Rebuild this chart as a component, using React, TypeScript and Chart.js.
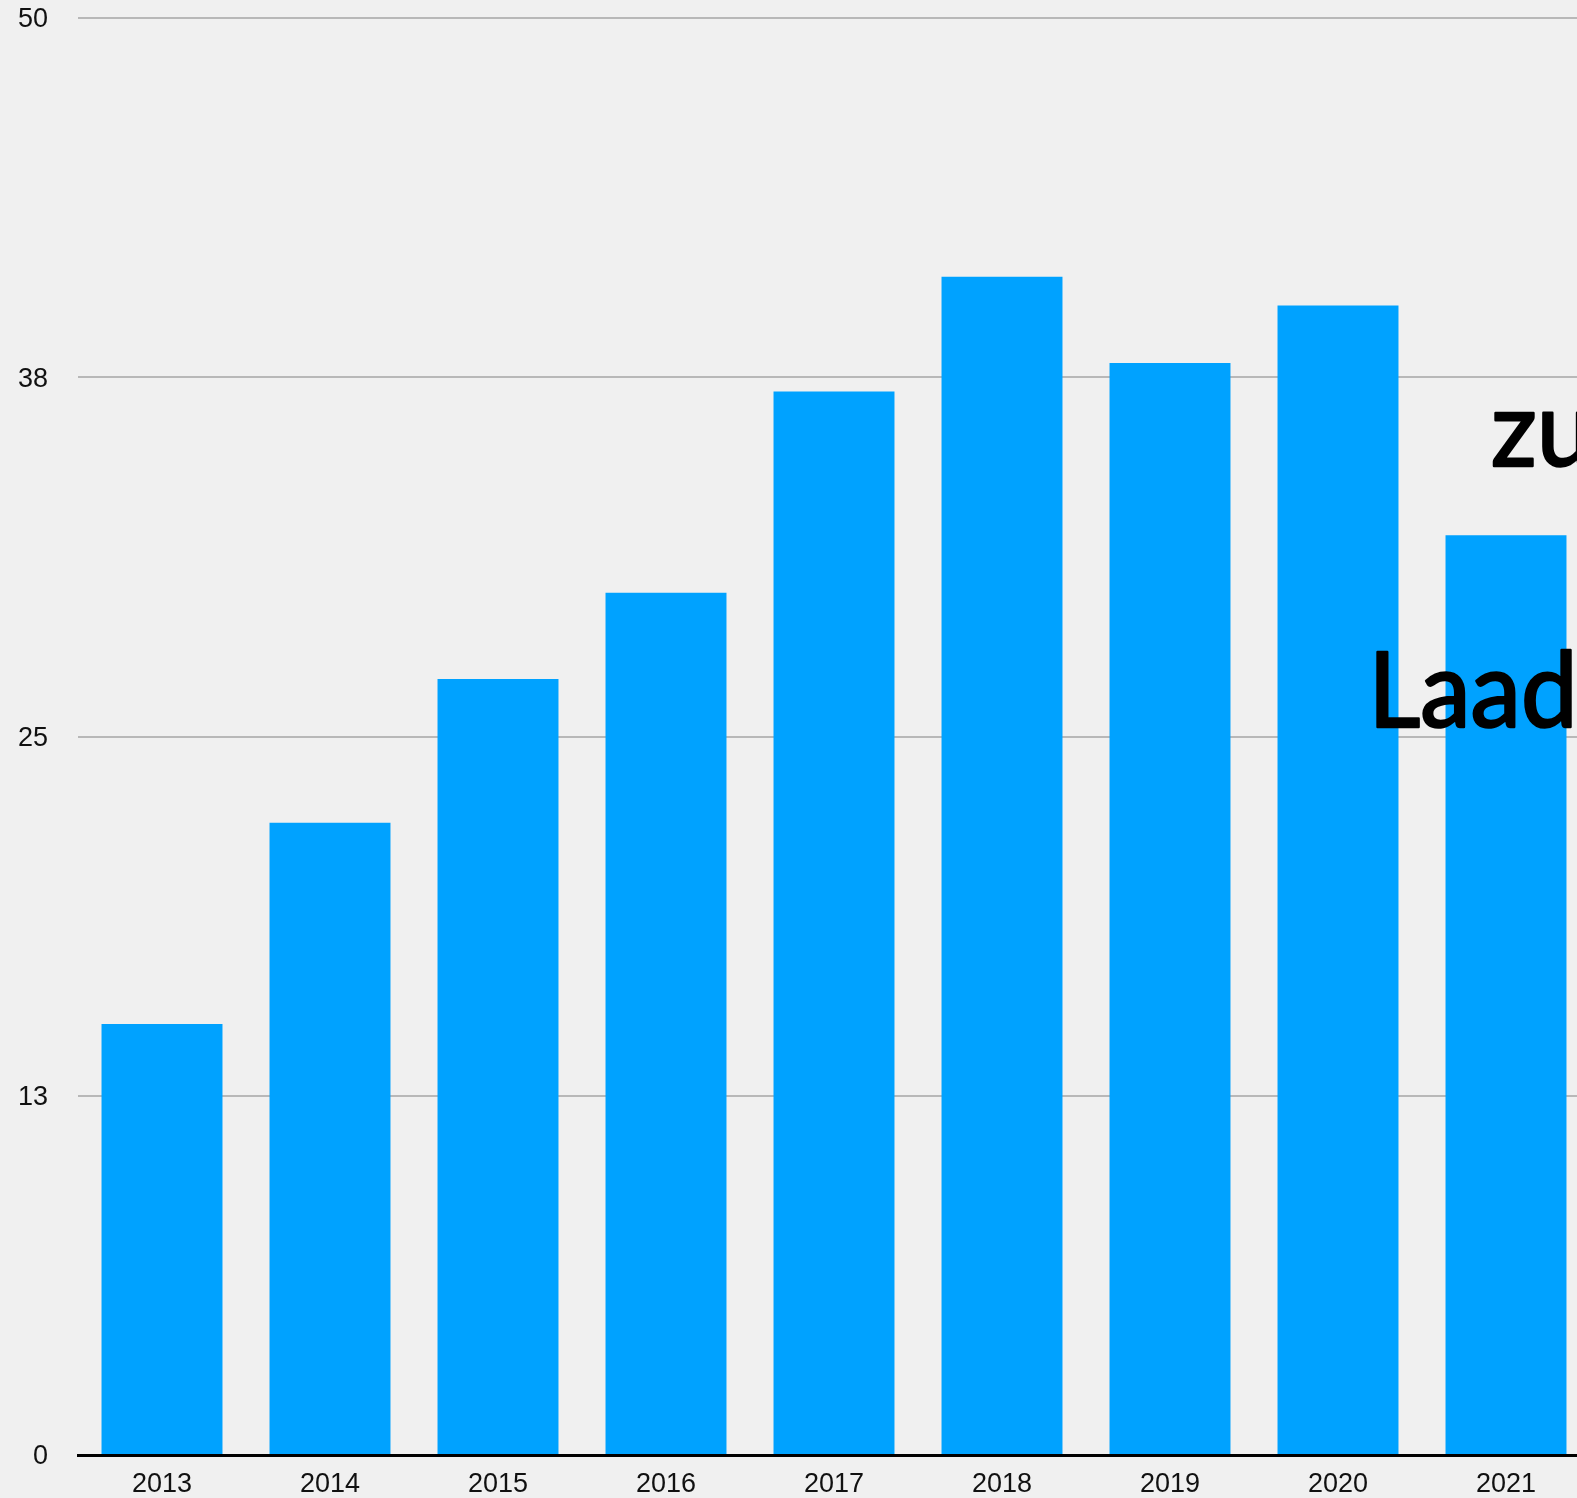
import React, { useEffect, useRef } from "react";
import { Chart, registerables } from "chart.js";

Chart.register(...registerables);

const categories = ["2013", "2014", "2015", "2016", "2017", "2018", "2019", "2020", "2021"];
const values = [15, 22, 27, 30, 37, 41, 38, 40, 32];
const yTicks = [0, 12.5, 25, 37.5, 50];
const overlayTexts = [
  { text: "zu", x: 1493, y: 467 },
  { text: "Laad", x: 1376, y: 728 },
];

const CANVAS_W = 1600;
const CANVAS_H = 1498;

export default function App() {
  const ref = useRef<HTMLCanvasElement | null>(null);

  useEffect(() => {
    document.body.style.margin = "0";
    const canvas = ref.current;
    if (!canvas) return;

    const overlayPlugin = {
      id: "overlayText",
      afterDraw(chart: any) {
        const ctx = chart.ctx;
        ctx.save();
        ctx.fillStyle = "#000";
        ctx.strokeStyle = "#000";
        ctx.lineWidth = 2.5;
        ctx.lineJoin = "round";
        ctx.font = "105px Lato";
        ctx.textBaseline = "alphabetic";
        ctx.textAlign = "left";
        const m = ctx.measureText("Laad");
        const ink = m.actualBoundingBoxLeft + m.actualBoundingBoxRight;
        const sx = ink > 0 ? Math.min(1, 194 / ink) : 1;
        overlayTexts.forEach((t) => {
          const mm = ctx.measureText(t.text);
          ctx.save();
          ctx.translate(t.x + 1, t.y);
          ctx.scale(sx, 1);
          ctx.fillText(t.text, mm.actualBoundingBoxLeft, -1);
          ctx.strokeText(t.text, mm.actualBoundingBoxLeft, -1);
          ctx.restore();
        });
        ctx.restore();
      },
    };

    const chart = new Chart(canvas, {
      type: "bar",
      data: {
        labels: categories,
        datasets: [
          {
            data: values,
            backgroundColor: "#00A2FF",
            borderWidth: 0,
            categoryPercentage: 1,
            barPercentage: 0.72,
          },
        ],
      },
      options: {
        responsive: false,
        animation: false,
        devicePixelRatio: 1,
        layout: { padding: { top: 18, right: CANVAS_W - 1590, left: 0, bottom: 0 } },
        plugins: { legend: { display: false }, tooltip: { enabled: false } },
        scales: {
          x: {
            grid: { display: false, drawTicks: false },
            border: { display: true, color: "#000", width: 3 },
            ticks: {
              color: "#111",
              padding: 13,
              font: { family: "'Liberation Sans', Arial, sans-serif", size: 27 },
              maxRotation: 0,
            },
            afterFit(scale: any) {
              scale.height = CANVAS_H - 1455;
              scale.paddingLeft = 0;
              scale.paddingRight = 0;
              scale.paddingTop = 0;
              scale.paddingBottom = 0;
            },
          },
          y: {
            min: 0,
            max: 50,
            afterBuildTicks(scale: any) {
              scale.ticks = yTicks.map((v) => ({ value: v }));
            },
            grid: {
              drawTicks: false,
              lineWidth: 2,
              color: (c: any) => (c.tick && c.tick.value === 0 ? "rgba(0,0,0,0)" : "#b8b8b8"),
            },
            border: { display: false },
            ticks: {
              color: "#111",
              padding: 30,
              labelOffset: 2,
              font: { family: "'Liberation Sans', Arial, sans-serif", size: 27 },
              callback: (v: any) => String(Math.round(Number(v))),
            },
            afterFit(scale: any) {
              scale.width = 78;
              scale.paddingTop = 0;
              scale.paddingBottom = 0;
              scale.paddingLeft = 0;
              scale.paddingRight = 0;
            },
          },
        },
      },
      plugins: [overlayPlugin],
    });

    return () => chart.destroy();
  }, []);

  return (
    <div
      style={{
        position: "absolute",
        left: 0,
        top: 0,
        width: 1577,
        height: CANVAS_H,
        overflow: "hidden",
        background: "#f0f0f0",
      }}
    >
      <canvas ref={ref} width={CANVAS_W} height={CANVAS_H} style={{ width: CANVAS_W, height: CANVAS_H, display: "block" }} />
    </div>
  );
}
